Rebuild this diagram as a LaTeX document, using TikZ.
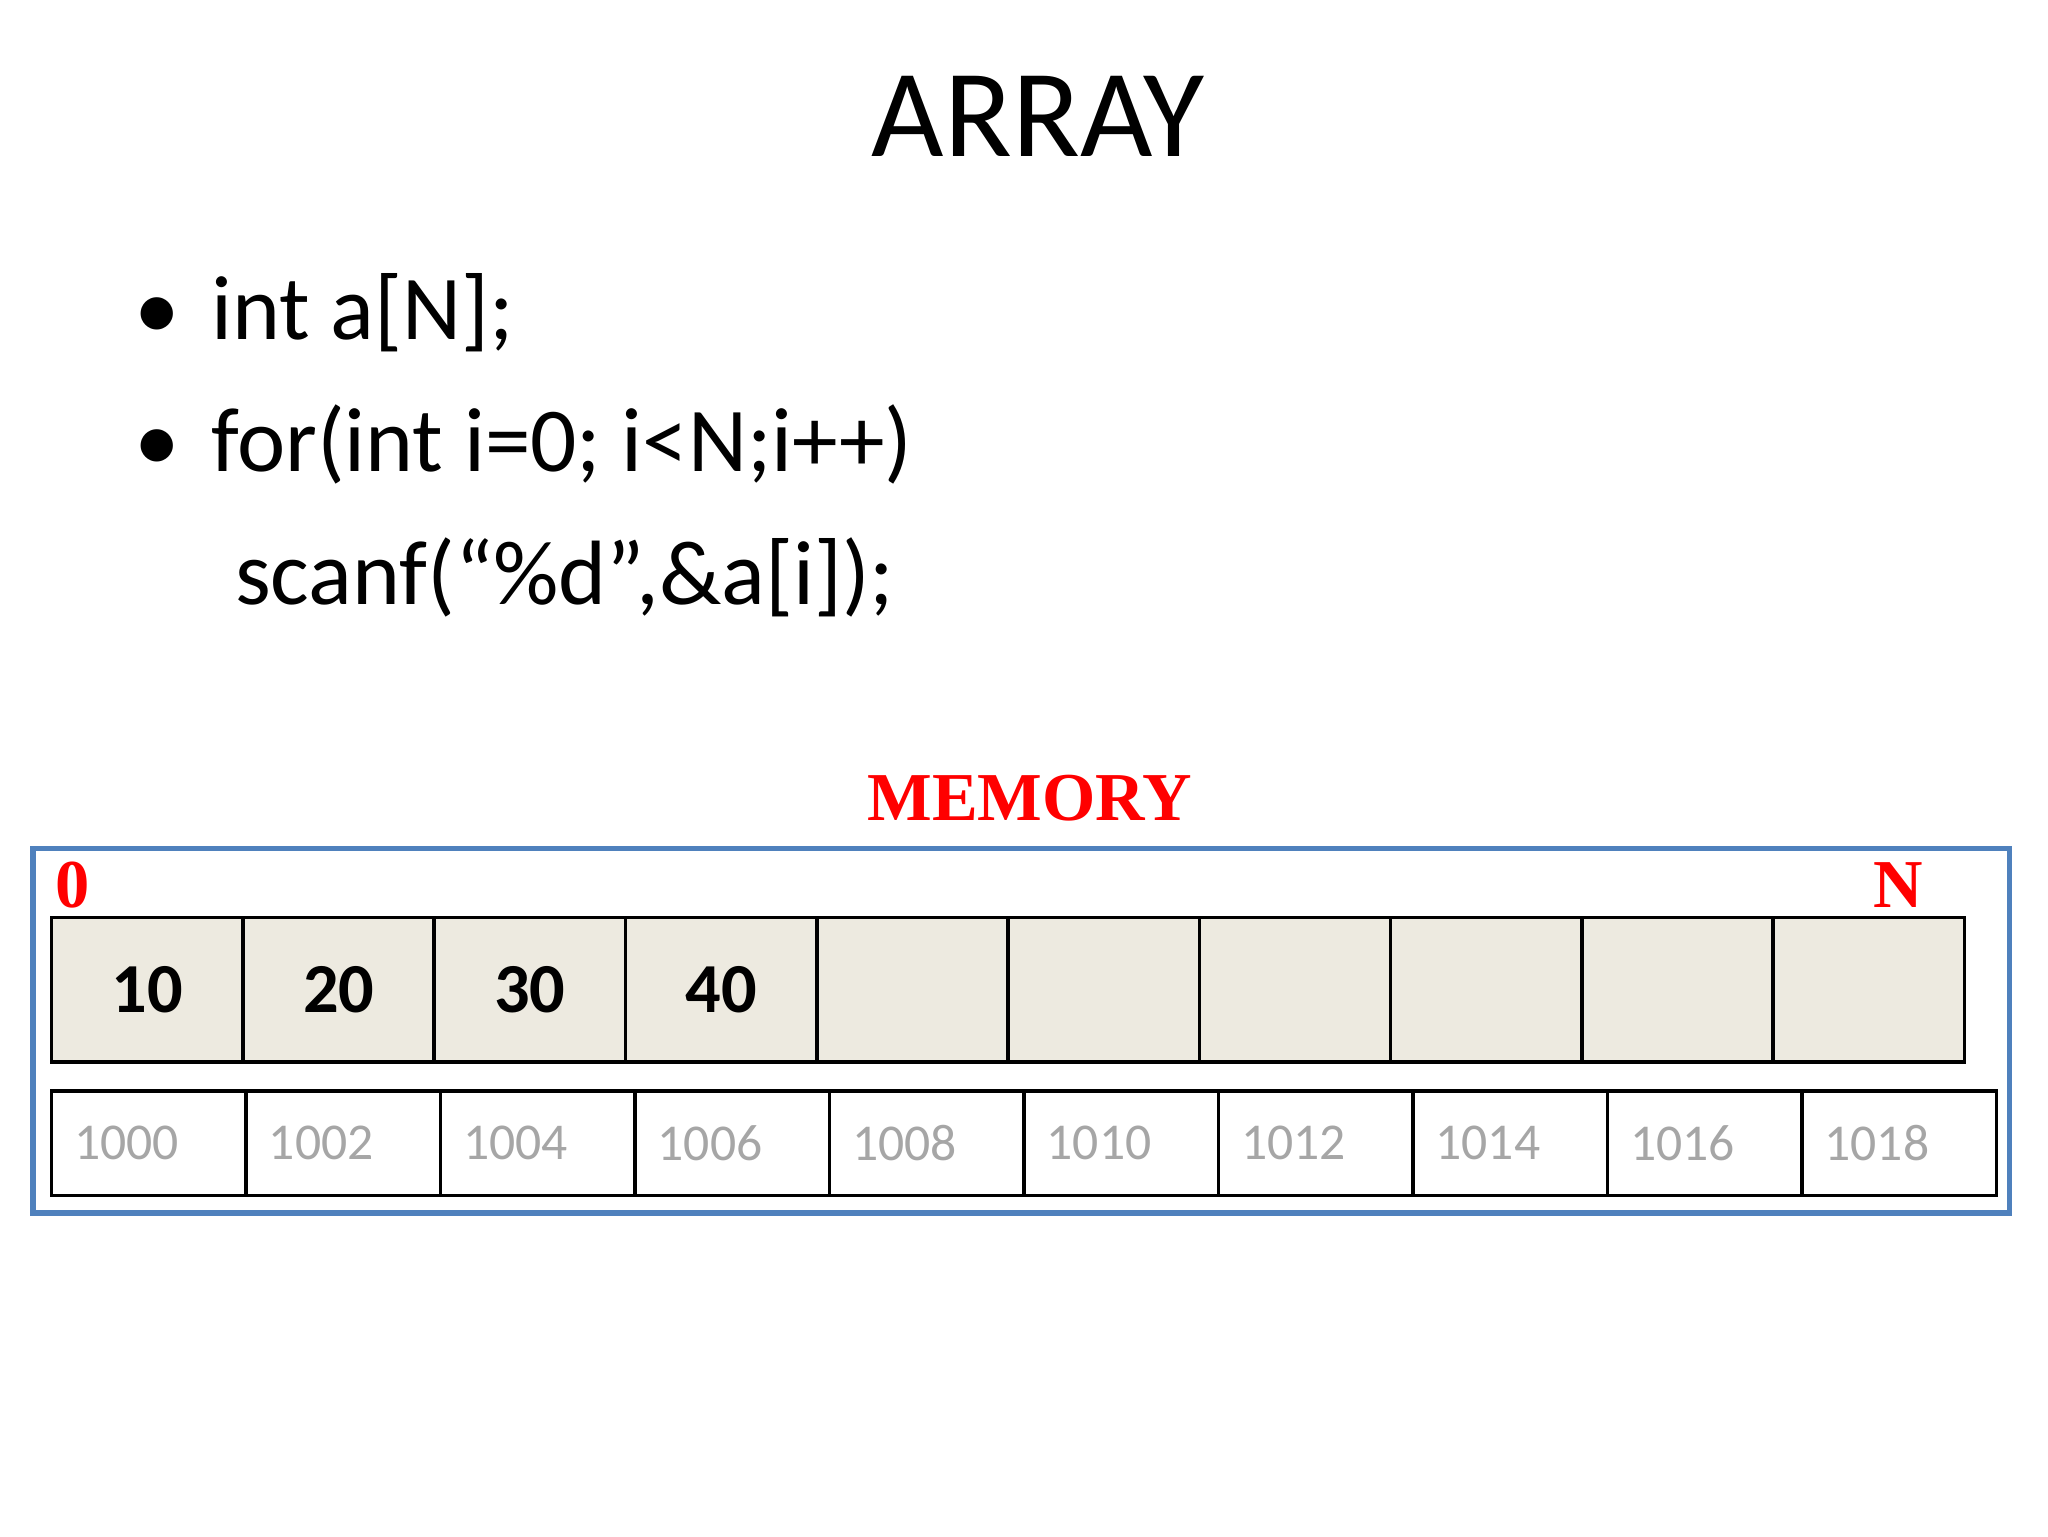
\documentclass[tikz,border=0pt]{standalone}
\usepackage{fontspec}
\setmainfont{Carlito}
\newfontfamily\memfont{Liberation Serif}
\usetikzlibrary{positioning}
\definecolor{cellfill}{HTML}{EDEAE0}
\definecolor{boxblue}{HTML}{4F81BD}

\begin{document}
\begin{tikzpicture}[x=0.013256cm, y=-0.013256cm,
		val_cell/.style={rectangle, draw=black, line width=1pt, fill=cellfill, minimum width=1.913cm, minimum height=1.445cm, inner sep=0pt, font=\fontsize{20}{22}\selectfont\bfseries},
		addr_cell/.style={rectangle, draw=black, line width=1pt, minimum width=1.945cm, minimum height=1.047cm, inner sep=0pt},
		addr_text/.style={font=\fontsize{14.7}{16}\selectfont, text=gray!70, anchor=west},
		code_text/.style={font=\fontsize{26}{30}\selectfont, anchor=base west},
		mark_text/.style={font=\memfont\fontsize{19.5}{22}\selectfont\bfseries, text=red},
		]

	\useasboundingbox[fill=white] (0,0) rectangle (1545,1159);

	\node[font=\fontsize{35.6}{40}\selectfont] (title) at (783,88) {ARRAY};

	% code lines
	\node[code_text] (bul1) at (92,256) {\textbullet};
	\node[code_text] (line1) at (150,256) {int a[N];};
	\node[code_text] (bul2) at (92,356) {\textbullet};
	\node[code_text] (line2) at (150,356) {for(int i=0; i<N;i++)};
	\node[code_text] (line3) at (168,456) {scanf(“\%d”,\&a[i]);};

	\node[mark_text] (memory) at (777,602) {MEMORY};
	\draw[line width=1.6pt, draw=boxblue] (25,640) rectangle (1516,915);
	\node[mark_text] (zero) at (55,668) {0};
	\node[mark_text] (enn) at (1432,668) {N};

	% values
	\foreach \i/\v in {1/10,2/20,3/30,4/40,5/,6/,7/,8/,9/,10/}{
		\node[val_cell] (v\i) at ({39+144.3*(\i-0.5)},746.5) {\v};
	}
	% addresses
	\foreach \i/\a in {1/1000,2/1002,3/1004,4/1006,5/1008,6/1010,7/1012,8/1014,9/1016,10/1018}{
		\node[addr_cell] (m\i) at ({39+146.7*(\i-0.5)},862.5) {};
		\node[addr_text] at ([xshift=0.12cm]m\i.west) {\a};
	}

\end{tikzpicture}
\end{document}
